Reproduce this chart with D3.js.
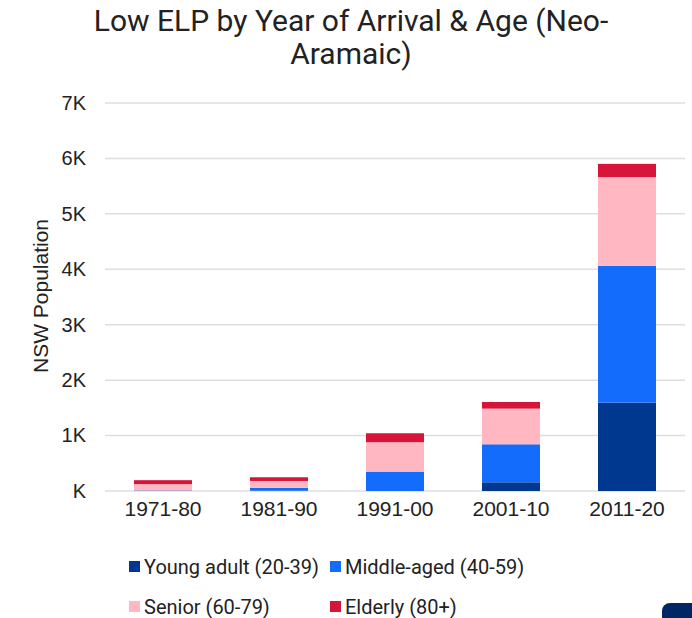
<!DOCTYPE html>
<html>
<head>
<meta charset="utf-8">
<script src="https://cdn.jsdelivr.net/npm/d3@7"></script>
<style>
  body { margin: 0; background: #fff; }
  svg { display: block; font-family: "Roboto", "Noto Sans", sans-serif; }
</style>
</head>
<body>
<div id="chart"></div>
<script>
const svgw = 692
const svgh = 618

const periods = ['1971-80', '1981-90', '1991-00', '2001-10', '2011-20']
const seriesNames = ['Young adult (20-39)', 'Middle-aged (40-59)', 'Senior (60-79)', 'Elderly (80+)']
const youngAdult = [5, 5, 0, 157, 1594]
const middleAged = [5, 50, 350, 686, 2467]
const senior = [115, 126, 530, 643, 1601]
const elderly = [70, 67, 162, 120, 240]
const yTicks = [0, 1000, 2000, 3000, 4000, 5000, 6000, 7000]
const colors = ['#01388f', '#146cfd', '#ffb8c1', '#d7153a']

const margin = { left: 105, right: 7, top: 103, bottom: 127 }
const axisFont = '"Liberation Sans", Arial, sans-serif'

const rows = periods.map((p, i) => ({
  period: p,
  [seriesNames[0]]: youngAdult[i],
  [seriesNames[1]]: middleAged[i],
  [seriesNames[2]]: senior[i],
  [seriesNames[3]]: elderly[i]
}))

const svg = d3.select('#chart')
  .append('svg')
  .attr('width', svgw)
  .attr('height', svgh)

const x = d3.scaleBand()
  .domain(periods)
  .range([margin.left, svgw - margin.right])
  .paddingInner(0.5)
  .paddingOuter(0.25)

const y = d3.scaleLinear()
  .domain([0, 7000])
  .range([svgh - margin.bottom, margin.top])

// title
svg.append('text')
  .attr('text-anchor', 'middle')
  .attr('font-size', 30)
  .attr('fill', '#222')
  .selectAll('tspan')
  .data(['Low ELP by Year of Arrival & Age (Neo-', 'Aramaic)'])
  .join('tspan')
  .attr('x', 351)
  .attr('y', (d, i) => 31 + i * 33)
  .text(d => d)

// grid
svg.append('g')
  .selectAll('line')
  .data(yTicks)
  .join('line')
  .attr('x1', margin.left)
  .attr('x2', svgw - margin.right)
  .attr('y1', d => y(d))
  .attr('y2', d => y(d))
  .attr('stroke', '#dcdee2')
  .attr('stroke-width', 1.5)

// y axis labels
const yAxis = d3.axisLeft(y)
  .tickValues(yTicks)
  .tickSize(0)
  .tickPadding(0)
  .tickFormat(d => d === 0 ? 'K' : (d / 1000) + 'K')

svg.append('g')
  .attr('transform', `translate(86,0)`)
  .call(yAxis)
  .call(g => g.select('.domain').remove())
  .selectAll('text')
  .attr('font-size', 20)
  .attr('fill', '#222')
  .attr('font-family', axisFont)

svg.append('text')
  .attr('transform', `translate(48,${y(3500) - 1}) rotate(-90)`)
  .attr('text-anchor', 'middle')
  .attr('font-size', 21)
  .attr('font-family', axisFont)
  .attr('fill', '#222')
  .text('NSW Population')

// bars
const stack = d3.stack().keys(seriesNames)(rows)

svg.append('g')
  .selectAll('g')
  .data(stack)
  .join('g')
  .attr('fill', (d, i) => colors[i])
  .selectAll('rect')
  .data(d => d)
  .join('rect')
  .attr('x', d => x(d.data.period))
  .attr('width', x.bandwidth())
  .attr('y', d => y(d[1]))
  .attr('height', d => y(d[0]) - y(d[1]))

// x axis labels
const xAxis = d3.axisBottom(x).tickSize(0).tickPadding(0)
svg.append('g')
  .attr('transform', `translate(0,${svgh - margin.bottom + 19})`)
  .call(xAxis)
  .call(g => g.select('.domain').remove())
  .selectAll('text')
  .attr('dy', null)
  .attr('y', 0)
  .attr('dominant-baseline', 'middle')
  .attr('font-size', 21)
  .attr('fill', '#222')
  .attr('font-family', axisFont)

// legend
const legendPos = [[129, 567], [330, 567], [129, 607], [330, 607]]
const legend = svg.append('g')
  .selectAll('g')
  .data(seriesNames)
  .join('g')
  .attr('transform', (d, i) => `translate(${legendPos[i][0]},${legendPos[i][1]})`)

legend.append('rect')
  .attr('x', 0).attr('y', -6)
  .attr('width', 11).attr('height', 11)
  .attr('fill', (d, i) => colors[i])

legend.append('text')
  .attr('x', 15)
  .attr('dy', '0.35em')
  .attr('font-size', 20)
  .attr('fill', '#222')
  .text(d => d)

// corner button
svg.append('rect')
  .attr('x', 662).attr('y', 603)
  .attr('width', 40).attr('height', 30)
  .attr('rx', 8)
  .attr('fill', '#002664')
</script>
</body>
</html>
